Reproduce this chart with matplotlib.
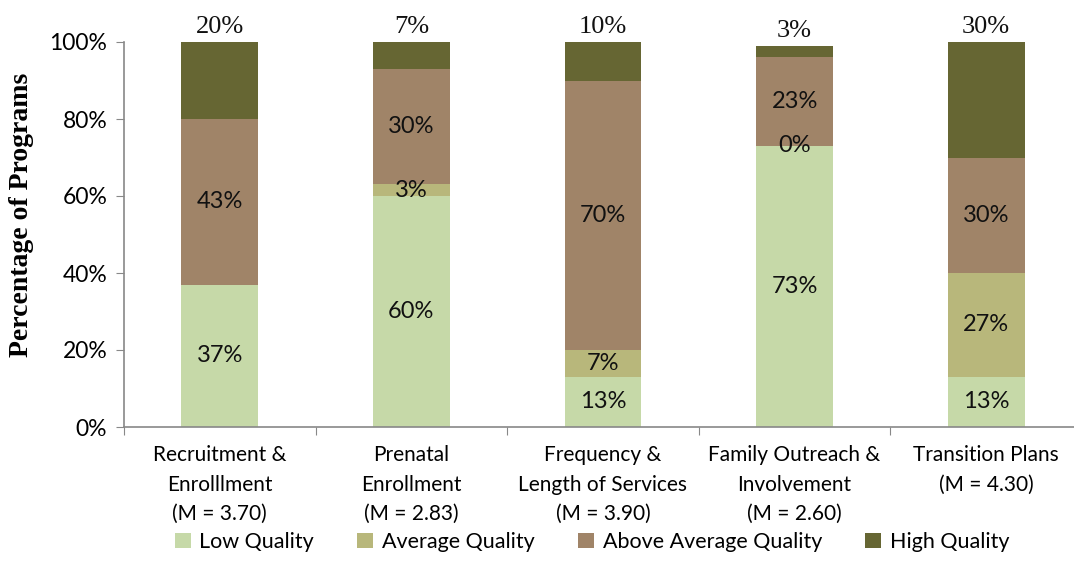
import matplotlib
matplotlib.use("Agg")
import matplotlib.pyplot as plt
from matplotlib import font_manager
import numpy as np

categories = [
    "Recruitment &\nEnrolllment\n(M = 3.70)",
    "Prenatal\nEnrollment\n(M = 2.83)",
    "Frequency &\nLength of Services\n(M = 3.90)",
    "Family Outreach &\nInvolvement\n(M = 2.60)",
    "Transition Plans\n(M = 4.30)",
]
series_names = ["Low Quality", "Average Quality", "Above Average Quality", "High Quality"]
low_quality = [37, 60, 13, 73, 13]
average_quality = [0, 3, 7, 0, 27]
above_average_quality = [43, 30, 70, 23, 30]
high_quality = [20, 7, 10, 3, 30]
yticks = [0, 20, 40, 60, 80, 100]
ytick_labels = ["0%", "20%", "40%", "60%", "80%", "100%"]

colors = ["#C6D9A8", "#B8B77B", "#A08468", "#666633"]

available = {f.name for f in font_manager.fontManager.ttflist}
sans = "Lato" if "Lato" in available else "DejaVu Sans"
serif = "Liberation Serif" if "Liberation Serif" in available else "DejaVu Serif"

fig = plt.figure(figsize=(10.74, 5.79), dpi=100)
ax = fig.add_axes([124 / 1074, 1 - 427 / 579, (1082 - 124) / 1074, (427 - 42) / 579])

x = np.arange(len(categories))
width = 0.40
series = [low_quality, average_quality, above_average_quality, high_quality]
bottom = np.zeros(len(categories))
for idx, (vals, name, col) in enumerate(zip(series, series_names, colors)):
    vals = np.array(vals, dtype=float)
    ax.bar(x, vals, width, bottom=bottom, color=col, label=name, zorder=2)
    for i, v in enumerate(vals):
        if idx == 3:
            ax.text(x[i], bottom[i] + v + 1.0, f"{int(v)}%", ha="center", va="bottom",
                    fontsize=19, family=serif, color="#111111")
        else:
            if v == 0 and not (idx == 1 and i == 3):
                continue
            ax.text(x[i], bottom[i] + v / 2, f"{int(v)}%", ha="center", va="center",
                    fontsize=17, family=sans, color="#111111")
    bottom += vals

ax.set_xlim(-0.5, len(categories) - 0.5)
ax.set_ylim(0, 100)
ax.set_yticks(yticks)
ax.set_yticklabels(ytick_labels, fontsize=16.5, family=sans)
ax.set_xticks(np.arange(len(categories) + 1) - 0.5, minor=False)
ax.set_xticklabels([])
ax.set_xticks(x, minor=True)
ax.set_xticklabels(categories, minor=True, fontsize=15, family=sans, linespacing=1.6)
ax.tick_params(axis="x", which="minor", length=0, pad=13)
ax.tick_params(axis="x", which="major", length=6, direction="out", color="#888888")
ax.tick_params(axis="y", length=6, color="#888888", pad=6)

for side in ["top", "right"]:
    ax.spines[side].set_visible(False)
for side in ["left", "bottom"]:
    ax.spines[side].set_color("#888888")
    ax.spines[side].set_linewidth(1.2)

ax.set_ylabel("Percentage of Programs", fontsize=20, family=serif, fontweight="bold")
ax.yaxis.set_label_coords(-90 / 958, 0.55)

fig.legend(loc="center", bbox_to_anchor=(592 / 1074, 1 - 542 / 579), ncol=4, frameon=False,
           prop={"family": sans, "size": 15.5}, handlelength=0.75, handleheight=0.75,
           columnspacing=2.0, handletextpad=0.4)

fig.savefig("out.png", dpi=100)
